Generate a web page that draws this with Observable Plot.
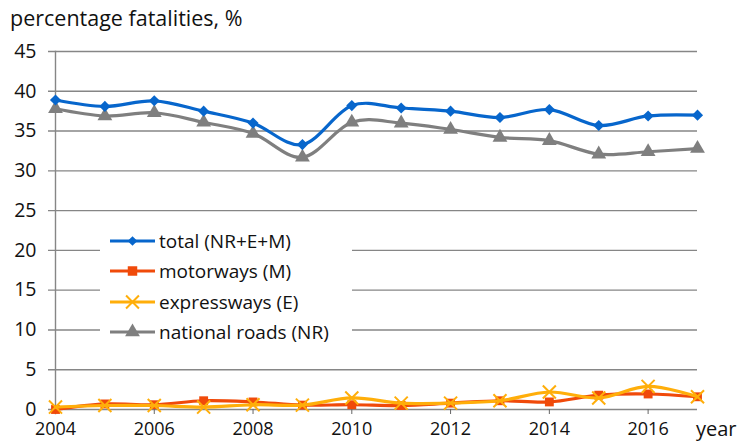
<!DOCTYPE html>
<html>
<head>
<meta charset="utf-8">
<script src="https://cdn.jsdelivr.net/npm/d3@7"></script>
<script src="https://cdn.jsdelivr.net/npm/@observablehq/plot@0.6"></script>
<style>
  body { margin: 0; background: #fff; }
  #wrap { position: relative; width: 737px; height: 443px; overflow: hidden; background: #fff; font-family: "Open Sans", sans-serif; }
  #title { position: absolute; left: 10px; top: 3px; font-size: 21.5px; color: #111; white-space: nowrap; }
  #chart { position: absolute; left: 0; top: 0; }
  #legend { position: absolute; left: 100px; top: 222px; width: 252px; height: 124px; background: #fff; }
  .row { position: absolute; left: 8px; height: 22px; display: flex; align-items: center; font-size: 19px; color: #111; white-space: nowrap; }
  .row svg { margin-right: 3px; }
</style>
</head>
<body>
<div id="wrap">
  <div id="chart"></div>
  <div id="title">percentage fatalities, %</div>
  <div id="legend"></div>
</div>
<script>
const years = [2004, 2005, 2006, 2007, 2008, 2009, 2010, 2011, 2012, 2013, 2014, 2015, 2016, 2017];
const total = [38.9, 38.1, 38.8, 37.5, 36.0, 33.3, 38.2, 37.9, 37.5, 36.7, 37.7, 35.7, 36.9, 37.0];
const motorways = [0.0, 0.7, 0.6, 1.1, 0.95, 0.55, 0.6, 0.5, 0.8, 1.1, 0.95, 1.8, 1.95, 1.6];
const expressways = [0.3, 0.5, 0.5, 0.3, 0.6, 0.55, 1.45, 0.8, 0.8, 1.1, 2.2, 1.45, 2.9, 1.6];
const nationalRoads = [37.8, 36.9, 37.3, 36.1, 34.7, 31.7, 36.1, 36.0, 35.2, 34.2, 33.8, 32.1, 32.4, 32.8];

const seriesNames = ["national roads (NR)", "total (NR+E+M)", "motorways (M)", "expressways (E)"];
const legendOrder = ["total (NR+E+M)", "motorways (M)", "expressways (E)", "national roads (NR)"];
const yTicks = [0, 5, 10, 15, 20, 25, 30, 35, 40, 45];
const xTicks = [2004, 2006, 2008, 2010, 2012, 2014, 2016];

const seriesValues = {
  "total (NR+E+M)": total,
  "motorways (M)": motorways,
  "expressways (E)": expressways,
  "national roads (NR)": nationalRoads
};
const style = {
  "total (NR+E+M)": {color: "#0766cc", symbol: "diamond2", r: 5, stroke: false},
  "motorways (M)": {color: "#f04a0a", symbol: "square", r: 5, stroke: false},
  "expressways (E)": {color: "#ffae0a", symbol: "times", r: 6, stroke: true},
  "national roads (NR)": {color: "#7f7f7f", symbol: "triangle", r: 5.5, stroke: false}
};

const data = seriesNames.flatMap(name => years.map((year, i) => ({name, year, value: seriesValues[name][i]})));

const marks = [
  Plot.gridY(yTicks, {stroke: "#868686", strokeOpacity: 1, strokeWidth: 1.4, x1: 2004, x2: 2017, insetLeft: -7}),
  Plot.axisY({ticks: yTicks, tickSize: 0, tickPadding: 19, fontSize: 19.5, fill: "#111", label: null}),
  Plot.frame({anchor: "left", stroke: "#868686", strokeWidth: 1.4, insetBottom: -4}),
  Plot.axisX({ticks: xTicks, tickSize: 5, tickPadding: 8, tickFormat: d3.format("d"), fontSize: 18, fill: "#111", stroke: "#666", label: null}),
  Plot.text(["year"], {frameAnchor: "bottom-right", dx: 39, dy: 20, textAnchor: "end", fontSize: 20, fill: "#111", lineAnchor: "middle"})
];
for (const name of seriesNames) {
  const s = style[name];
  const rows = data.filter(d => d.name === name);
  marks.push(Plot.line(rows, {x: "year", y: "value", stroke: s.color, strokeWidth: 3.2, curve: "cardinal"}));
  if (s.stroke) {
    marks.push(Plot.dot(rows, {x: "year", y: "value", symbol: s.symbol, r: s.r, stroke: s.color, strokeWidth: 2, fill: "none"}));
  } else {
    marks.push(Plot.dot(rows, {x: "year", y: "value", symbol: s.symbol, r: s.r, fill: s.color, stroke: "none"}));
  }
}

const chart = Plot.plot({
  width: 737,
  height: 443,
  marginTop: 51,
  marginBottom: 34,
  marginLeft: 55,
  marginRight: 40,
  style: {fontFamily: "'Open Sans', sans-serif", background: "transparent", overflow: "visible"},
  x: {domain: [2004, 2017]},
  y: {domain: [0, 45]},
  marks
});
document.getElementById("chart").append(chart);

// Legend
const legend = d3.select("#legend");
const symbolPaths = {
  "diamond2": d3.symbol(d3.symbolDiamond2, 60)(),
  "square": d3.symbol(d3.symbolSquare, 90)(),
  "times": d3.symbol(d3.symbolTimes, 110)(),
  "triangle": d3.symbol(d3.symbolTriangle, 95)()
};
legendOrder.forEach((name, i) => {
  const s = style[name];
  const row = legend.append("div").attr("class", "row").style("top", (8 + i * 30.3) + "px");
  const svg = row.append("svg").attr("width", 48).attr("height", 22);
  svg.append("line").attr("x1", 2).attr("x2", 47).attr("y1", 11).attr("y2", 11)
    .attr("stroke", s.color).attr("stroke-width", 3.2);
  const p = svg.append("path").attr("d", symbolPaths[s.symbol]).attr("transform", "translate(24.5,11)");
  if (s.stroke) p.attr("fill", "none").attr("stroke", s.color).attr("stroke-width", 2);
  else p.attr("fill", s.color);
  row.append("span").text(name);
});
</script>
</body>
</html>
